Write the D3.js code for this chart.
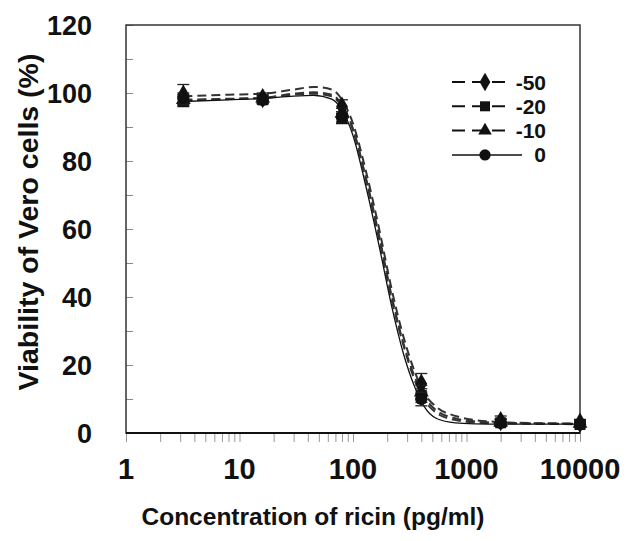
<!DOCTYPE html>
<html>
<head>
<meta charset="utf-8">
<script src="https://cdn.jsdelivr.net/npm/d3@7"></script>
<style>
  body { margin: 0; background: #fff; }
  text { font-family: Arial, "Liberation Sans", sans-serif; font-weight: bold; fill: #111; }
</style>
</head>
<body>
<div id="chart"></div>
<script>
// measured points (ricin dilutions)
const conc = [3.2, 16, 80, 400, 2000, 10000];
const v50 = [99.5, 98.5, 96, 14.5, 3.5, 3];
const v20 = [97.5, 98, 92.5, 11, 3, 2.5];
const v10 = [98, 98.5, 94, 12, 3.2, 2.8];
const v0 = [98.5, 98, 93, 10, 3, 2.5];
const err50 = [3, 1.5, 2, 3, 1.5, 1];
const err20 = [1.5, 1.2, 1.5, 2, 1, 0.8];
const err10 = [1.5, 1, 1.5, 2, 1, 0.8];
const err0 = [1.5, 1, 1.5, 2, 1, 0.8];

// fitted curves
const curveConc = [3.2, 8, 16, 30, 45, 65, 80, 100, 130, 170, 220, 280, 350, 420, 550, 800, 1200, 2000, 4000, 10000];
const fit50 = [99, 99.5, 99.8, 101, 101.8, 101, 98, 91, 77, 60, 42, 28, 18, 12, 7.5, 5, 3.8, 3.2, 2.9, 2.8];
const fit20 = [98, 98.3, 98.6, 99.8, 100.2, 99.5, 96.5, 89.5, 75, 58, 40, 26, 16.5, 11, 6.5, 4.3, 3.4, 3.0, 2.8, 2.7];
const fit10 = [97.8, 98.2, 98.5, 99.5, 99.8, 99, 96, 89, 74.5, 57, 39, 25.5, 15.5, 10, 5.8, 3.8, 3.1, 2.9, 2.7, 2.6];
const fit0 = [97.5, 98, 98.4, 99.1, 99.3, 98.2, 95, 87.5, 72.5, 55, 37, 23, 13.5, 8, 4.2, 3, 2.7, 2.6, 2.6, 2.6];

const labels = ["-50", "-20", "-10", "0"];
const xTicks = [1, 10, 100, 1000, 10000];
const yTicks = [0, 20, 40, 60, 80, 100, 120];

const series = [
  {label: labels[0], vals: v50, err: err50, fit: fit50, sym: d3.symbolDiamond, dash: "9,5"},
  {label: labels[1], vals: v20, err: err20, fit: fit20, sym: d3.symbolSquare, dash: "9,5"},
  {label: labels[2], vals: v10, err: err10, fit: fit10, sym: d3.symbolTriangle, dash: "9,5"},
  {label: labels[3], vals: v0, err: err0, fit: fit0, sym: d3.symbolCircle, dash: null}
];

const W = 628, H = 541;
const pLeft = 126, pRight = 580, pTop = 25, pBottom = 433;

const svg = d3.select("#chart").append("svg")
  .attr("width", W).attr("height", H);

const x = d3.scaleLog().domain([1, 10000]).range([pLeft, pRight]);
const y = d3.scaleLinear().domain([0, 120]).range([pBottom, pTop]);

// minor ticks on x axis (pointing down)
const minorX = [];
for (let d = 1; d < 10000; d *= 10) {
  for (let k = 1; k < 10; k++) minorX.push(d * k);
}
minorX.push(10000);

svg.append("g")
  .attr("transform", "translate(0," + pBottom + ")")
  .call(d3.axisBottom(x).tickValues(minorX).tickSize(9).tickFormat(""))
  .call(g => g.select(".domain").remove())
  .call(g => g.selectAll("line").attr("stroke", "#999").attr("stroke-width", 1));

// y minor ticks every 10, pointing inside
svg.append("g")
  .attr("transform", "translate(" + pLeft + ",0)")
  .call(d3.axisRight(y).tickValues(d3.range(0, 121, 10)).tickSize(7).tickFormat(""))
  .call(g => g.select(".domain").remove())
  .call(g => g.selectAll("line").attr("stroke", "#888").attr("stroke-width", 1));

// frame
svg.append("rect")
  .attr("x", pLeft).attr("y", pTop)
  .attr("width", pRight - pLeft).attr("height", pBottom - pTop)
  .attr("fill", "none").attr("stroke", "#333").attr("stroke-width", 1.5);
svg.append("line")
  .attr("x1", pLeft).attr("x2", pRight).attr("y1", pBottom).attr("y2", pBottom)
  .attr("stroke", "#111").attr("stroke-width", 2);

// tick labels
svg.append("g").selectAll("text")
  .data(xTicks).enter().append("text")
  .attr("x", d => x(d)).attr("y", 479)
  .attr("text-anchor", "middle")
  .style("font-size", "29px")
  .text(d => d);

svg.append("g").selectAll("text")
  .data(yTicks).enter().append("text")
  .attr("x", 92).attr("y", d => y(d) + 9.5)
  .attr("text-anchor", "end")
  .style("font-size", "27px")
  .text(d => d);

// axis titles
svg.append("text")
  .attr("x", 313).attr("y", 525)
  .attr("text-anchor", "middle")
  .style("font-size", "24.5px")
  .text("Concentration of ricin (pg/ml)");

svg.append("text")
  .attr("transform", "translate(38," + 222 + ") rotate(-90)")
  .attr("text-anchor", "middle")
  .style("font-size", "28.5px")
  .text("Viability of Vero cells (%)");

// curves
const line = d3.line()
  .x((d, i) => x(curveConc[i]))
  .y(d => y(d))
  .curve(d3.curveMonotoneX);

series.forEach(s => {
  svg.append("path")
    .attr("d", line(s.fit))
    .attr("fill", "none")
    .attr("stroke", s.dash ? "#333" : "#111")
    .attr("stroke-width", s.dash ? 2 : 1.3)
    .attr("stroke-dasharray", s.dash);
});

// error bars and markers
series.forEach(s => {
  const g = svg.append("g");
  conc.forEach((c, i) => {
    const cx = x(c);
    const yt = y(s.vals[i] + s.err[i]);
    const yb = y(s.vals[i] - s.err[i]);
    g.append("line").attr("x1", cx).attr("x2", cx).attr("y1", yt).attr("y2", yb)
      .attr("stroke", "#222").attr("stroke-width", 1.3);
    g.append("line").attr("x1", cx - 6).attr("x2", cx + 6).attr("y1", yt).attr("y2", yt)
      .attr("stroke", "#222").attr("stroke-width", 1.3);
    g.append("line").attr("x1", cx - 6).attr("x2", cx + 6).attr("y1", yb).attr("y2", yb)
      .attr("stroke", "#222").attr("stroke-width", 1.3);
  });
  g.selectAll("path")
    .data(s.vals).enter().append("path")
    .attr("d", d3.symbol().type(s.sym).size(s.sym === d3.symbolTriangle ? 95 : 120))
    .attr("transform", (d, i) => "translate(" + x(conc[i]) + "," + y(d) + ")")
    .attr("fill", "#111");
});

// legend
const legend = svg.append("g");
series.forEach((s, i) => {
  const ly = 82 + i * 24.3;
  legend.append("line")
    .attr("x1", 452).attr("x2", s.dash ? 508 : 522)
    .attr("y1", ly).attr("y2", ly)
    .attr("stroke", "#111").attr("stroke-width", s.dash ? 2 : 1.5)
    .attr("stroke-dasharray", s.dash ? "13,7" : null);
  legend.append("path")
    .attr("d", d3.symbol().type(s.sym).size(s.sym === d3.symbolTriangle ? 80 : 100))
    .attr("transform", "translate(485," + ly + ")")
    .attr("fill", "#111");
  legend.append("text")
    .attr("x", 546).attr("y", ly + 7.5)
    .attr("text-anchor", "end")
    .style("font-size", "21px")
    .text(s.label);
});
</script>
</body>
</html>
